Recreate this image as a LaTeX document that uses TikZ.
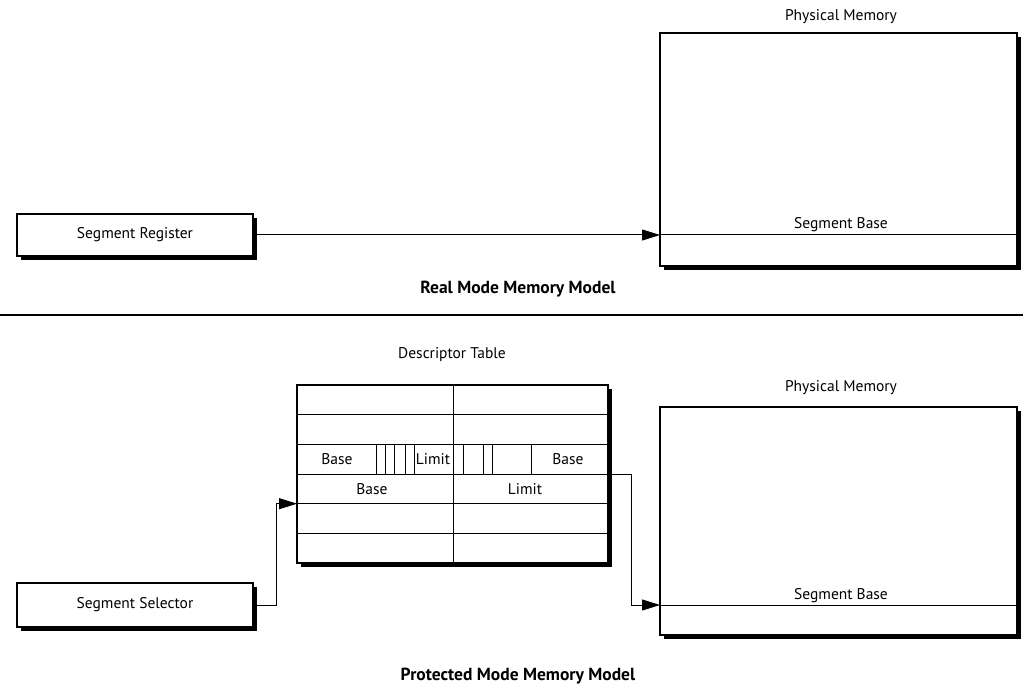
\documentclass[tikz,border=0pt]{standalone}
\usepackage{fontspec}
\setmainfont{PT Sans}
\usetikzlibrary{arrows.meta,shadows}
\begin{document}
\begin{tikzpicture}[x=1pt,y=-1pt,
  lbl/.style={font=\fontsize{15.5}{18}\selectfont, inner sep=0pt, anchor=base},
  ttl/.style={font=\fontsize{17.5}{20}\selectfont\bfseries, inner sep=0pt, anchor=base},
  box/.style={draw, line width=1.2pt, fill=white, inner sep=0pt,
    font=\fontsize{15.5}{18}\selectfont,
    drop shadow={shadow xshift=4pt, shadow yshift=-4pt, fill=black, opacity=1}},
  conn/.style={line width=1pt},
  thin/.style={line width=1pt},
  tip/.style={-{Triangle[length=18pt,width=11pt]}}]
\useasboundingbox (0,0) rectangle (1023,687);

% ---------- Real mode ----------
\node[box, minimum width=357pt, minimum height=233pt] (pm1) at (838.5,149.5) {};
\node[lbl] (pm1t) at (841,21) {Physical Memory};
\coordinate (sb1) at (660,235);
\draw[thin] (sb1) -- (1017,235);
\node[lbl] (sb1t) at (841,229) {Segment Base};

\node[box, minimum width=236pt, minimum height=42pt] (reg) at (135,235) {Segment Register};
\draw[conn,tip] (reg.east) -- (sb1);

\node[ttl] (t1) at (518,294) {Real Mode Memory Model};

\draw[line width=1.2pt] (0,315) -- (1023,315);

% ---------- Protected mode ----------
\node[lbl] (dtt) at (452,358) {Descriptor Table};
\node[box, minimum width=311pt, minimum height=178pt] (dt) at (452.5,474) {};
\foreach \y in {414.7,444.3,474,503.7,533.3}
  \draw[thin] (297,\y) -- (608,\y);
\draw[thin] (453,385) -- (453,563);
\foreach \x in {376,385,394,405,414,463,483,492,531}
  \draw[thin] (\x,444.3) -- (\x,474);
\node[lbl] (b1) at (337,464) {Base};
\node[lbl] (l1) at (433,464) {Limit};
\node[lbl] (b2) at (568,464) {Base};
\node[lbl] (b3) at (372,494) {Base};
\node[lbl] (l2) at (525,494) {Limit};

\node[box, minimum width=357pt, minimum height=228pt] (pm2) at (838.5,521) {};
\node[lbl] (pm2t) at (841,391) {Physical Memory};
\coordinate (sb2) at (660,605);
\draw[thin] (sb2) -- (1017,605);
\node[lbl] (sb2t) at (841,599) {Segment Base};

\node[box, minimum width=236pt, minimum height=44pt] (sel) at (135,605) {Segment Selector};
\coordinate (din) at (297,503.7);
\draw[conn,tip] (sel.east) -- (276,605) |- (din);
\draw[conn,tip] (dt.east) -| (631,605) -- (sb2);

\node[ttl] (t2) at (518,680) {Protected Mode Memory Model};
\end{tikzpicture}
\end{document}
